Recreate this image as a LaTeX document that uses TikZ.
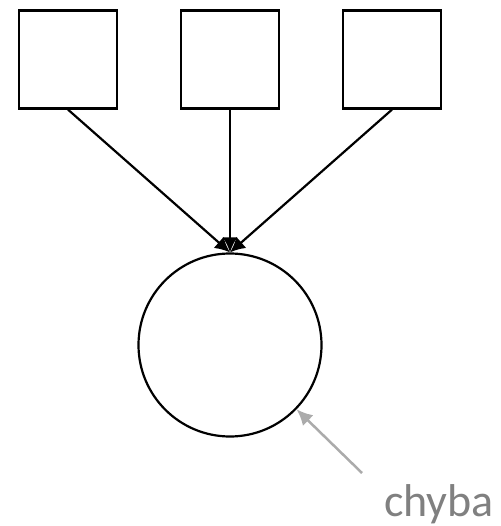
\documentclass[tikz,border=0pt]{standalone}
\usepackage{fontspec}
\setmainfont{Carlito}
\usetikzlibrary{arrows.meta}

\begin{document}
\begin{tikzpicture}[x=1pt, y=1pt]
\tikzset{ticarre/.style={draw, line width=2.2pt, minimum size=98pt, inner sep=0pt},
tirond/.style={draw, circle, line width=2.2pt, minimum size=183pt, inner sep=0pt},
fleche/.style={line width=2.2pt, -{Latex[length=15pt, width=15pt]}}}
\useasboundingbox (0, 0) rectangle (500, -526);
\node[ticarre] (C1) at (68, -59.5) {};
\node[ticarre] (C2) at (230, -59.5) {};
\node[ticarre] (C3) at (392, -59.5) {};
\node[tirond] (R) at (230, -345) {};
\draw[fleche] (C1.south) -- (R.north);
\draw[fleche] (C2.south) -- (R.north);
\draw[fleche] (C3.south) -- (R.north);
\node[anchor=base west, inner sep=0pt, text=black!50, font=\fontsize{46}{54}\selectfont] (T) at (384, -516) {chyba};
\coordinate (A) at (362, -473);
\draw[black!33, line width=2.5pt, -{Latex[length=16pt, width=15pt]}] (A) -- (R.-44);
\end{tikzpicture}
\end{document}
